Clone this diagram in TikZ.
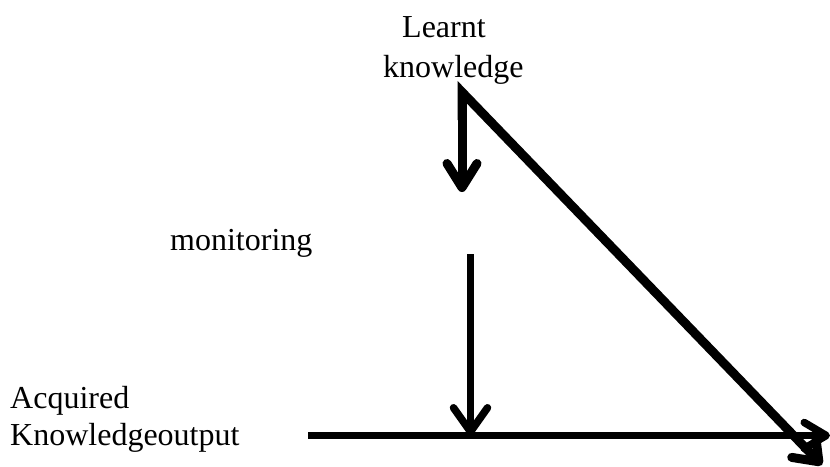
\documentclass[tikz,border=0pt]{standalone}
\usepackage{fontspec}
\setmainfont{Liberation Serif}
\usetikzlibrary{arrows.meta}
\begin{document}
\begin{tikzpicture}[x=1pt,y=-1pt,
  lbl/.style={anchor=base west,inner sep=0pt,align=left,font=\fontsize{32}{37}\selectfont},
  thick line/.style={line width=#1,line cap=butt,line join=miter},
  barb/.style n args={3}{-{Straight Barb[length=#1,width=#2,line width=#3,round]}}
]
\useasboundingbox (0,0) rectangle (830,466);
\clip (0,0) rectangle (830,466);

\node[lbl,font=\fontsize{32}{40}\selectfont] (learnt) at (383,77) {\hspace*{19pt}Learnt\\knowledge};
\node[lbl] (monitoring) at (170,250) {monitoring};
\node[lbl] (acquired) at (10,445) {Acquired\\Knowledgeoutput};

\coordinate (top) at (462,92);
\coordinate (topmid) at (462,120);
\coordinate (topend) at (462,192);
\coordinate (diagend) at (822,465);
\coordinate (monstart) at (470.5,254);
\coordinate (monend) at (470.5,435.5);
\coordinate (hstart) at (308,435.5);
\coordinate (hend) at (830,435.5);

\draw[thick line=9pt, barb={24pt}{30pt}{9pt}] (top) -- (topend);
\draw[thick line=9pt, barb={22pt}{33pt}{9pt}] (topmid) -- (top) -- (diagend);
\draw[thick line=7.5pt, barb={24pt}{34pt}{7.5pt}] (monstart) -- (monend);
\draw[thick line=7.5pt, barb={22pt}{26pt}{7.5pt}] (hstart) -- (hend);
\end{tikzpicture}
\end{document}
